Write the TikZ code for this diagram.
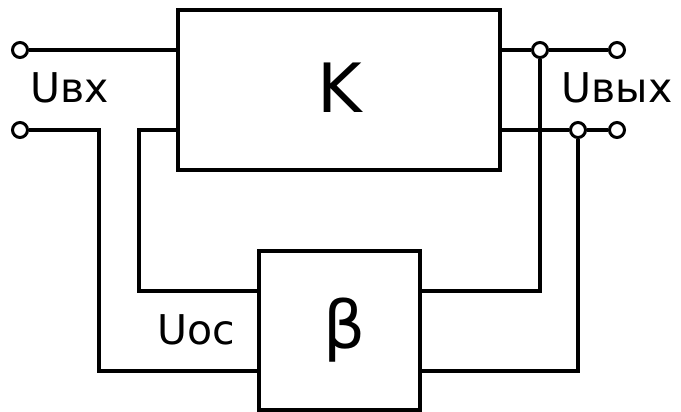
\documentclass[tikz,border=0pt]{standalone}
\usepackage{fontspec}
\setmainfont{DejaVu Sans}
\usepackage{tikz}

\begin{document}
\begin{tikzpicture}[x=1pt, y=-1pt, line width=3.5pt,
    terminal/.style={circle, draw, fill=white, line width=3pt, minimum size=15pt, inner sep=0pt},
    bloco/.style={rectangle, draw, inner sep=0pt},
    rotulo/.style={font=\fontsize{41}{41}\selectfont, inner sep=0pt}]
    \useasboundingbox (0,0) rectangle (681,412);

    % Blocos
    \node[bloco, minimum width=322pt, minimum height=160pt] (K) at (339,90) {};
    \node[bloco, minimum width=161pt, minimum height=159pt] (B) at (339.5,330.5) {};
    \node[rotulo, font=\fontsize{68}{68}\selectfont] (kl) at (340,88) {K};
    \node[rotulo, font=\fontsize{66}{66}\selectfont] (bl) at (345,330) {β};

    % Terminais
    \node[terminal] (in1) at (20,50) {};
    \node[terminal] (in2) at (20,130) {};
    \node[terminal] (out1) at (617,50) {};
    \node[terminal] (out2) at (617,130) {};
    \node[terminal] (j1) at (540,50) {};
    \node[terminal] (j2) at (578,130) {};

    % Pontos de canto
    \coordinate (a1) at (99,130);
    \coordinate (a2) at (99,371);
    \coordinate (b1) at (139,130);
    \coordinate (b2) at (139,291);
    \coordinate (c1) at (540,291);
    \coordinate (d1) at (578,371);

    % Ligacoes
    \draw (in1) -- (in1 -| K.west);
    \draw (in2) -- (a1) -- (a2) -- (a2 -| B.west);
    \draw (K.west |- b1) -- (b1) -- (b2) -- (b2 -| B.west);
    \draw (j1 -| K.east) -- (j1);
    \draw (j1) -- (out1);
    \draw (j2 -| K.east) -- (j2);
    \draw (j2) -- (out2);
    \draw (j1) -- (c1) -- (c1 -| B.east);
    \draw (j2) -- (d1) -- (d1 -| B.east);

    % Rotulos
    \node[rotulo] (uin) at (70,88) {Uвх};
    \node[rotulo] (uout) at (617,88) {Uвых};
    \node[rotulo] (uoc) at (196,330) {Uос};
\end{tikzpicture}
\end{document}
